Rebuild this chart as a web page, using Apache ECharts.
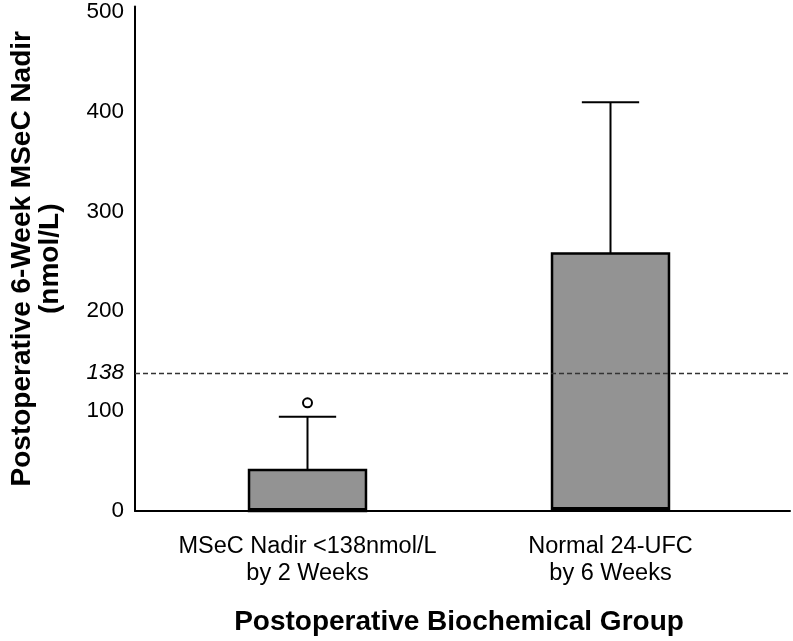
<!DOCTYPE html>
<html>
<head>
<meta charset="utf-8">
<script src="https://cdn.jsdelivr.net/npm/echarts@6/dist/echarts.min.js"></script>
<style>html,body{margin:0;padding:0;background:#fff;}#c{width:793px;height:641px;}</style>
</head>
<body>
<div id="c"></div>
<script>
const categories = ['MSeC Nadir <138nmol/L\nby 2 Weeks', 'Normal 24-UFC\nby 6 Weeks'];
const whiskerLow = [0, 2];
const q1Values = [0, 2];
const medianValues = [1, 2];
const q3Values = [41, 257];
const whiskerHigh = [94, 408];
const outliers = [[0, 108]];
const thresholdValue = 138;
const thresholdLabel = '138';
const yTickValues = [0, 100, 200, 300, 400, 500];
const yAxisTitle = 'Postoperative 6-Week MSeC Nadir\n(nmol/L)';
const xAxisTitle = 'Postoperative Biochemical Group';

const FONT = '"Liberation Sans", Arial, sans-serif';
const boxData = categories.map((c, i) => [i, whiskerLow[i], q1Values[i], medianValues[i], q3Values[i], whiskerHigh[i]]);

const chart = echarts.init(document.getElementById('c'), null, {renderer: 'canvas'});
const yMin = 0, yMax = 505;

chart.setOption({
  backgroundColor: '#ffffff',
  animation: false,
  textStyle: {fontFamily: FONT},
  grid: [
    {left: 156, right: 31, top: 5, bottom: 130},
    {left: 135, right: 3, top: 5, bottom: 130}
  ],
  xAxis: [
    {
      gridIndex: 0, type: 'category', data: categories, boundaryGap: true,
      axisLine: {show: false}, axisTick: {show: false},
      axisLabel: {fontFamily: FONT, fontSize: 23.5, color: '#000', lineHeight: 26.5, margin: 22.5, interval: 0},
      name: xAxisTitle, nameLocation: 'middle', nameGap: 97,
      nameTextStyle: {fontFamily: FONT, fontSize: 28, fontWeight: 'bold', color: '#000'}
    },
    {
      gridIndex: 1, type: 'value', min: 0, max: 1,
      axisLine: {show: true, lineStyle: {color: '#000', width: 2}},
      axisTick: {show: false}, axisLabel: {show: false}, splitLine: {show: false}
    }
  ],
  yAxis: [
    {
      gridIndex: 0, type: 'value', min: yMin, max: yMax, interval: 100,
      axisLine: {show: false}, axisTick: {show: false}, axisLabel: {show: false}, splitLine: {show: false}
    },
    {
      gridIndex: 1, type: 'value', min: yMin, max: yMax, interval: 100,
      axisLine: {show: true, lineStyle: {color: '#000', width: 2}},
      axisTick: {show: false}, splitLine: {show: false},
      axisLabel: {
        fontFamily: FONT, fontSize: 22.5, color: '#000', margin: 11,
        formatter: v => yTickValues.indexOf(v) >= 0 ? String(v) : ''
      },
      name: yAxisTitle, nameLocation: 'middle', nameRotate: 90, nameGap: 71,
      nameTextStyle: {fontFamily: FONT, fontSize: 28, fontWeight: 'bold', color: '#000', lineHeight: 28, align: 'center'}
    }
  ],
  series: [
    {
      type: 'line', xAxisIndex: 1, yAxisIndex: 1, data: [], silent: true,
      markLine: {
        silent: true, symbol: 'none',
        lineStyle: {color: '#333', width: 1.3, type: [5, 3]},
        label: {show: true, position: 'start', formatter: thresholdLabel, fontFamily: FONT, fontSize: 22.5, fontStyle: 'italic', color: '#000', distance: 11},
        data: [{yAxis: thresholdValue}]
      }
    },
    {
      type: 'custom', xAxisIndex: 0, yAxisIndex: 0,
      data: boxData,
      encode: {x: 0, y: [1, 2, 3, 4, 5]},
      renderItem: function (params, api) {
        const idx = api.value(0);
        const band = api.size([1, 0])[0];
        const boxW = band * 0.386;
        const capW = boxW * 0.49;
        const pLow = api.coord([idx, api.value(1)]);
        const pQ1 = api.coord([idx, api.value(2)]);
        const pMed = api.coord([idx, api.value(3)]);
        const pQ3 = api.coord([idx, api.value(4)]);
        const pHigh = api.coord([idx, api.value(5)]);
        const cx = pQ3[0];
        const stroke = {stroke: '#000', lineWidth: 2};
        return {
          type: 'group',
          children: [
            {type: 'line', shape: {x1: cx, y1: pQ3[1], x2: cx, y2: pHigh[1]}, style: stroke},
            {type: 'line', shape: {x1: cx - capW / 2, y1: pHigh[1], x2: cx + capW / 2, y2: pHigh[1]}, style: stroke},
            {type: 'line', shape: {x1: cx, y1: pQ1[1], x2: cx, y2: pLow[1]}, style: stroke},
            {type: 'rect', shape: {x: cx - boxW / 2, y: pQ3[1], width: boxW, height: pQ1[1] - pQ3[1]},
              style: {fill: '#939393', stroke: '#000', lineWidth: 2.5}},
            {type: 'line', shape: {x1: cx - boxW / 2, y1: pMed[1], x2: cx + boxW / 2, y2: pMed[1]}, style: {stroke: '#000', lineWidth: 4}}
          ]
        };
      }
    },
    {
      type: 'scatter', xAxisIndex: 0, yAxisIndex: 0,
      data: outliers, symbol: 'circle', symbolSize: 9,
      itemStyle: {color: '#fff', borderColor: '#000', borderWidth: 2, opacity: 1}
    }
  ]
});
</script>
</body>
</html>
